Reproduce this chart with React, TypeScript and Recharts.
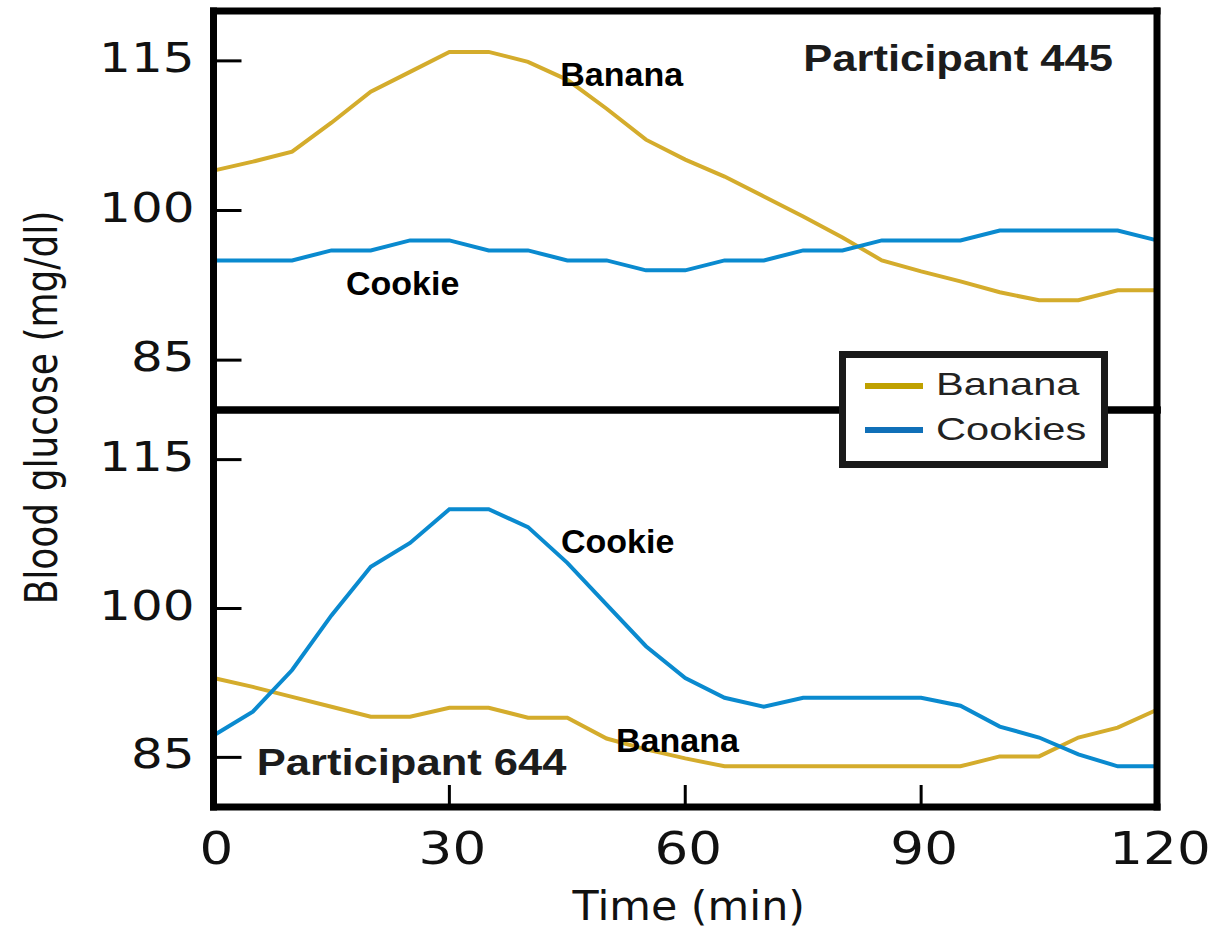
import React from "react";
import { LineChart, Line, XAxis, YAxis, Legend, ReferenceDot } from "recharts";

// sampling times (min) and readings (mg/dl)
const minutes = [0, 5, 10, 15, 20, 25, 30, 35, 40, 45, 50, 55, 60, 65, 70, 75, 80, 85, 90, 95, 100, 105, 110, 115, 120];

const banana445 = [104.0, 104.9, 105.9, 108.8, 111.9, 113.9, 115.9, 115.9, 114.9, 113.1, 110.2, 107.1, 105.1, 103.4, 101.4, 99.4, 97.3, 95.0, 93.9, 92.9, 91.8, 91.0, 91.0, 92.0, 92.0];
const cookie445 = [95, 95, 95, 96, 96, 97, 97, 96, 96, 95, 95, 94, 94, 95, 95, 96, 96, 97, 97, 97, 98, 98, 98, 98, 97];

const banana644 = [93.0, 92.1, 91.1, 90.1, 89.1, 89.1, 90.0, 90.0, 89.0, 89.0, 86.9, 85.8, 84.9, 84.1, 84.1, 84.1, 84.1, 84.1, 84.1, 84.1, 85.1, 85.1, 87.0, 88.0, 89.8];
const cookie644 = [87.2, 89.6, 93.8, 99.3, 104.2, 106.6, 110.0, 110.0, 108.2, 104.6, 100.4, 96.2, 93.0, 91.0, 90.1, 91.0, 91.0, 91.0, 91.0, 90.2, 88.1, 87.0, 85.3, 84.1, 84.1];

const timeTicks = [0, 30, 60, 90, 120];
const glucoseTicks = [85, 100, 115];

// text notes inside the panels, anchored in data units (t, mg/dl)
const notes445 = [
  { t: 44.1, v: 112.5, text: "Banana", panel: false },
  { t: 16.85, v: 91.5, text: "Cookie", panel: false },
  { t: 75.0, v: 114.0, text: "Participant 445", panel: true },
];
const notes644 = [
  { t: 44.2, v: 105.6, text: "Cookie", panel: false },
  { t: 51.2, v: 85.5, text: "Banana", panel: false },
  { t: 5.5, v: 83.2, text: "Participant 644", panel: true },
];

const BANANA = "#D4AC2C";
const COOKIE = "#0A8ACF";
const legendColors: Record<string, string> = { Banana: "#BFA100", Cookies: "#1070B8" };

const TICK_FONT = "'DejaVu Sans', sans-serif";
const NOTE_FONT = "'Liberation Sans', Arial, sans-serif";

const rows445 = minutes.map((t, i) => ({ t, banana: banana445[i], cookie: cookie445[i] }));
const rows644 = minutes.map((t, i) => ({ t, banana: banana644[i], cookie: cookie644[i] }));

const frame = { stroke: "#000", strokeWidth: 7, strokeLinecap: "square" as const };
const tickMark = { stroke: "#000", strokeWidth: 3 };

function GlucoseTick(props: any) {
  const { x, y, payload } = props;
  return (
    <text transform={`translate(${x + 1},${y + 11}) scale(1.25,1)`} textAnchor="end" fontFamily={TICK_FONT} fontSize={40} fill="#111">
      {payload.value}
    </text>
  );
}

function TimeTick(props: any) {
  const { x, y, payload } = props;
  return (
    <text transform={`translate(${x + 3},${y + 57}) scale(1.18,1)`} textAnchor="middle" fontFamily={TICK_FONT} fontSize={45} fill="#111">
      {payload.value}
    </text>
  );
}

function TimeTitle(props: any) {
  const vb = props.viewBox || { x: 213.5, y: 807, width: 943.5 };
  return (
    <text transform={`translate(${vb.x + vb.width / 2 + 3.5},${vb.y + 113}) scale(1.07,1)`} textAnchor="middle" fontFamily={TICK_FONT} fontSize={40} fill="#111">
      Time (min)
    </text>
  );
}

function GlucoseTitle(props: any) {
  const vb = props.viewBox || { x: 0, y: 410 };
  return (
    <text transform={`translate(${vb.x + 57},${vb.y - 2.5}) rotate(-90) scale(0.8,1)`} textAnchor="middle" fontFamily={TICK_FONT} fontSize={45} fill="#111">
      Blood glucose (mg/dl)
    </text>
  );
}

function noteLabel(text: string, panel: boolean) {
  return (props: any) => {
    const vb = props.viewBox;
    if (!vb) return null;
    if (panel) {
      return (
        <text transform={`translate(${vb.x},${vb.y}) scale(1.21,1)`} fontFamily={NOTE_FONT} fontWeight="bold" fontSize={36} fill="#1c1c1c">
          {text}
        </text>
      );
    }
    return (
      <text x={vb.x} y={vb.y} fontFamily={NOTE_FONT} fontWeight="bold" fontSize={34} fill="#000">
        {text}
      </text>
    );
  };
}

function LegendBox(props: any) {
  const items = props.payload || [];
  return (
    <div style={{ width: 269, height: 117, boxSizing: "border-box", border: "7px solid #1a1a1a", background: "#fff", position: "relative" }}>
      {items.map((item: any, i: number) => (
        <React.Fragment key={item.value}>
          <div style={{ position: "absolute", left: 19, top: 25 + i * 44, width: 58, height: 6, background: legendColors[item.value] || item.color }} />
          <div style={{ position: "absolute", left: 90, top: 10 + i * 45, fontFamily: NOTE_FONT, fontSize: 32, lineHeight: "32px", color: "#222", whiteSpace: "nowrap", transform: "scaleX(1.3)", transformOrigin: "left center" }}>
            {item.value}
          </div>
        </React.Fragment>
      ))}
    </div>
  );
}

export default function App() {
  return (
    <div style={{ position: "absolute", left: 0, top: 0, width: 1211, height: 929, background: "#fff" }}>
      <div style={{ position: "absolute", left: 0, top: 0 }}>
        <LineChart width={1211} height={420} data={rows445} margin={{ top: 0, right: 0, bottom: 0, left: 0 }}>
          <XAxis xAxisId="top" orientation="top" dataKey="t" type="number" domain={[0, 120]} ticks={timeTicks} interval={0} height={11} tickSize={-22} tick={false} tickLine={tickMark} axisLine={frame} />
          <XAxis dataKey="t" type="number" domain={[0, 120]} ticks={timeTicks} interval={0} height={10} tickSize={-22} tick={false} tickLine={tickMark} axisLine={frame} />
          <YAxis type="number" domain={[80, 120]} ticks={glucoseTicks} interval={0} width={213.5} tickSize={-28} tickMargin={48} tick={<GlucoseTick />} tickLine={tickMark} axisLine={frame} />
          <YAxis yAxisId="r" orientation="right" type="number" domain={[80, 120]} ticks={glucoseTicks} interval={0} width={54} tickSize={-25} tick={false} tickLine={tickMark} axisLine={frame} />
          <Line type="linear" dataKey="banana" name="Banana" stroke={BANANA} strokeWidth={4} dot={false} activeDot={false} isAnimationActive={false} />
          <Line type="linear" dataKey="cookie" name="Cookies" stroke={COOKIE} strokeWidth={4} dot={false} activeDot={false} isAnimationActive={false} />
          {notes445.map((n) => (
            <ReferenceDot key={n.text} x={n.t} y={n.v} r={0} fill="none" stroke="none" label={{ content: noteLabel(n.text, n.panel) }} />
          ))}
        </LineChart>
      </div>
      <div style={{ position: "absolute", left: 0, top: 0 }}>
        <LineChart width={1211} height={929} data={rows644} margin={{ top: 0, right: 0, bottom: 0, left: 0 }}>
          <XAxis xAxisId="top" orientation="top" dataKey="t" type="number" domain={[0, 120]} ticks={timeTicks} interval={0} height={410} tickSize={-22} tick={false} tickLine={tickMark} axisLine={frame} />
          <XAxis dataKey="t" type="number" domain={[0, 120]} ticks={timeTicks} interval={0} height={122} tickSize={-22} tickMargin={22} tick={<TimeTick />} tickLine={tickMark} axisLine={frame} label={{ content: TimeTitle }} />
          <YAxis type="number" domain={[80, 120]} ticks={glucoseTicks} interval={0} width={213.5} tickSize={-28} tickMargin={48} tick={<GlucoseTick />} tickLine={tickMark} axisLine={frame} label={{ content: GlucoseTitle }} />
          <YAxis yAxisId="r" orientation="right" type="number" domain={[80, 120]} ticks={glucoseTicks} interval={0} width={54} tickSize={-25} tick={false} tickLine={tickMark} axisLine={frame} />
          <Line type="linear" dataKey="banana" name="Banana" stroke={BANANA} strokeWidth={4} dot={false} activeDot={false} isAnimationActive={false} />
          <Line type="linear" dataKey="cookie" name="Cookies" stroke={COOKIE} strokeWidth={4} dot={false} activeDot={false} isAnimationActive={false} />
          {notes644.map((n) => (
            <ReferenceDot key={n.text} x={n.t} y={n.v} r={0} fill="none" stroke="none" label={{ content: noteLabel(n.text, n.panel) }} />
          ))}
          <Legend layout="horizontal" verticalAlign="middle" align="center" content={LegendBox} wrapperStyle={{ left: 839, top: 351, width: 269, height: 117 }} />
        </LineChart>
      </div>
    </div>
  );
}
